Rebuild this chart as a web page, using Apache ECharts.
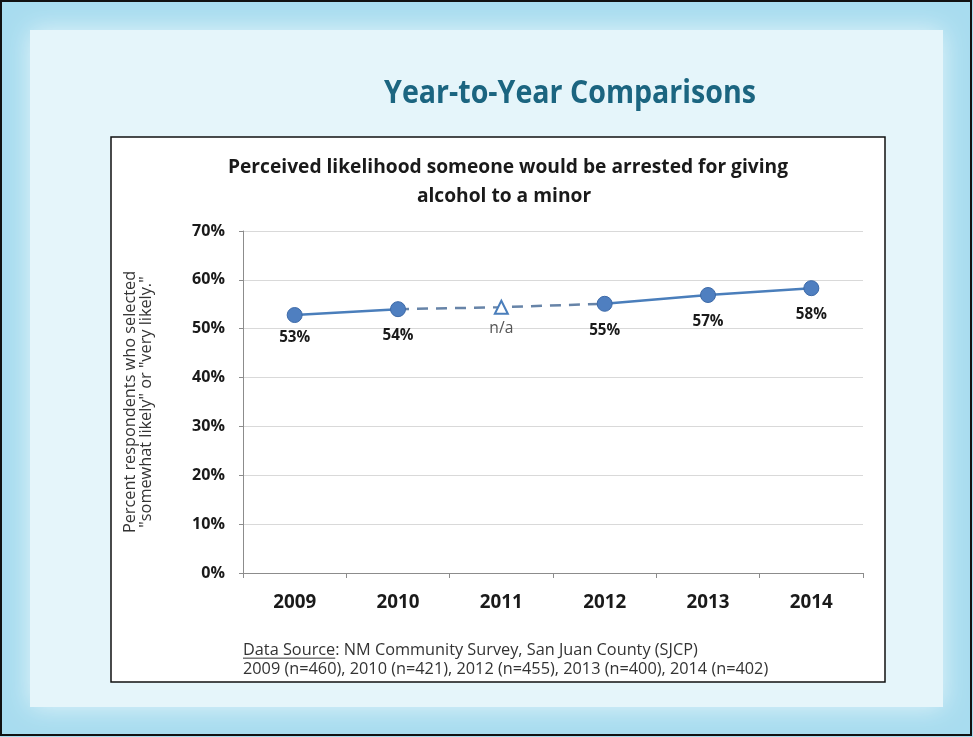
<!DOCTYPE html>
<html><head><meta charset="utf-8">
<script src="https://cdn.jsdelivr.net/npm/echarts@6/dist/echarts.min.js"></script>
<style>html,body{margin:0;padding:0;background:#fff}#c{width:973px;height:737px}</style>
</head><body><div id="c"></div>
<script>
const years = ['2009','2010','2011','2012','2013','2014'];
const values = [52.8, 54.0, 54.4, 55.1, 56.9, 58.3];
const pointLabels = ['53%','54%','n/a','55%','57%','58%'];
const yTicks = [0,10,20,30,40,50,60,70];
const slideTitle = 'Year-to-Year Comparisons';
const chartTitle1 = 'Perceived likelihood someone would be arrested for giving';
const chartTitle2 = 'alcohol to a minor';
const yName1 = 'Percent respondents who selected';
const yName2 = '"somewhat likely" or "very likely."';
const sourceLabel = 'Data Source';
const sourceRest = ': NM Community Survey, San Juan County (SJCP)';
const sampleLine = '2009 (n=460), 2010 (n=421), 2012 (n=455), 2013 (n=400), 2014 (n=402)';
const naIndex = 2;

// font detection + width fitting
const cv = document.createElement('canvas').getContext('2d');
function hasFont(name) {
  const s = 'abcdefghijklmnopqrstuvwxyz0123456789';
  cv.font = '100px monospace'; const a = cv.measureText(s).width;
  cv.font = '100px "' + name + '", monospace'; const b = cv.measureText(s).width;
  return a !== b;
}
const famName = ['Liberation Sans Narrow', 'Open Sans'].find(hasFont) || 'sans-serif';
const FAM = '"' + famName + '", "Open Sans", sans-serif';
function fit(text, weight, target) {
  cv.font = weight + ' 100px ' + FAM;
  return Math.round(1000 * target / cv.measureText(text).width) / 10;
}
function textW(text, weight, size) {
  cv.font = weight + ' ' + size + 'px ' + FAM;
  return cv.measureText(text).width;
}
const sTitle = fit(slideTitle, 'bold', 372);
const sChart = fit(chartTitle1, 'bold', 561);
const sX = fit('2009', 'bold', 43);
const sY = fit('70%', 'bold', 33);
const sPt = fit('53%', 'bold', 31);
const sNa = fit('n/a', 'normal', 24);
const sYName = fit(yName1, 'normal', 262);
const sSrc = fit(sampleLine, 'normal', 527);
const srcLabelW = textW(sourceLabel, 'normal', sSrc);

const BLUE = '#4a7ebb';
function seg(from, to) {
  return values.map((v, i) => (i >= from && i <= to) ? v : '-');
}

const chart = echarts.init(document.getElementById('c'), null, {renderer: 'canvas'});
chart.setOption({
  animation: false,
  backgroundColor: '#a8dcef',
  graphic: [
    {type: 'rect', shape: {x: 30, y: 30, width: 913, height: 677}, style: {fill: '#e5f5fa', shadowBlur: 25, shadowColor: '#e5f5fa'}, z: -10},
    {type: 'rect', shape: {x: 111, y: 137, width: 774, height: 545}, style: {fill: '#ffffff', stroke: '#111', lineWidth: 1.5}, z: -5},
    {type: 'rect', shape: {x: 1, y: 1, width: 970, height: 734}, style: {fill: 'none', stroke: '#111', lineWidth: 2}, z: 100},
    {type: 'text', x: 570, y: 94, scaleY: 1.12, originX: 0, originY: 0, style: {text: slideTitle, font: 'bold ' + sTitle + 'px ' + FAM, fill: '#1b6580', align: 'center', verticalAlign: 'middle'}},
    {type: 'text', x: 508, y: 168, style: {text: chartTitle1, font: 'bold ' + sChart + 'px ' + FAM, fill: '#1a1a1a', align: 'center', verticalAlign: 'middle'}},
    {type: 'text', x: 504, y: 197, style: {text: chartTitle2, font: 'bold ' + sChart + 'px ' + FAM, fill: '#1a1a1a', align: 'center', verticalAlign: 'middle'}},
    {type: 'text', x: 243, y: 650, style: {text: sourceLabel + sourceRest, font: sSrc + 'px ' + FAM, fill: '#333', verticalAlign: 'middle'}},
    {type: 'line', shape: {x1: 243, y1: 650 + sSrc * 0.5, x2: 243 + srcLabelW, y2: 650 + sSrc * 0.5}, style: {stroke: '#333', lineWidth: 1}},
    {type: 'text', x: 243, y: 669, style: {text: sampleLine, font: sSrc + 'px ' + FAM, fill: '#333', verticalAlign: 'middle'}}
  ],
  grid: {left: 243, right: 110, top: 231, bottom: 164},
  xAxis: {
    type: 'category', data: years, boundaryGap: true,
    axisLine: {lineStyle: {color: '#8c8c8c', width: 1}},
    axisTick: {show: true, length: 5, lineStyle: {color: '#8c8c8c'}},
    axisLabel: {fontFamily: FAM, fontSize: sX, fontWeight: 'bold', color: '#1a1a1a', margin: 20}
  },
  yAxis: {
    type: 'value', min: 0, max: 70, interval: 10,
    name: yName1 + '\n' + yName2, nameLocation: 'middle', nameGap: 89, nameRotate: 90,
    nameTextStyle: {fontFamily: FAM, fontSize: sYName, color: '#333', lineHeight: 15.5},
    axisLine: {show: true, lineStyle: {color: '#8c8c8c'}},
    axisTick: {show: true, length: 4, lineStyle: {color: '#8c8c8c'}},
    splitLine: {lineStyle: {color: '#d9d9d9'}},
    axisLabel: {fontFamily: FAM, fontSize: sY, fontWeight: 'bold', color: '#1a1a1a', margin: 18,
      formatter: v => yTicks.includes(v) ? v + '%' : ''}
  },
  series: [
    {type: 'line', data: seg(1, 3), symbol: 'none', z: 2,
     lineStyle: {color: '#6784a8', width: 2.5, type: [11, 8]}},
    {type: 'line', data: seg(0, 1), symbol: 'none', z: 3, lineStyle: {color: BLUE, width: 2.5}},
    {type: 'line', data: seg(3, 5), symbol: 'none', z: 3, lineStyle: {color: BLUE, width: 2.5}},
    {type: 'line', data: values.map((v, i) => ({
        value: v,
        symbol: i === naIndex ? 'triangle' : 'circle',
        symbolSize: i === naIndex ? 13 : 15,
        itemStyle: i === naIndex ? {color: '#ffffff', borderColor: BLUE, borderWidth: 2} : {color: '#4f7fc0', borderColor: '#3d6aa8', borderWidth: 1},
        label: i === naIndex ? {fontWeight: 'normal', fontSize: sNa, color: '#555', distance: 6}
             : (i === 0 ? {distance: 7} : {})
      })),
     lineStyle: {opacity: 0}, z: 5,
     label: {show: true, position: 'bottom', distance: 11, fontFamily: FAM, fontSize: sPt, fontWeight: 'bold', color: '#1a1a1a',
       formatter: p => pointLabels[p.dataIndex]}}
  ]
});
</script></body></html>
